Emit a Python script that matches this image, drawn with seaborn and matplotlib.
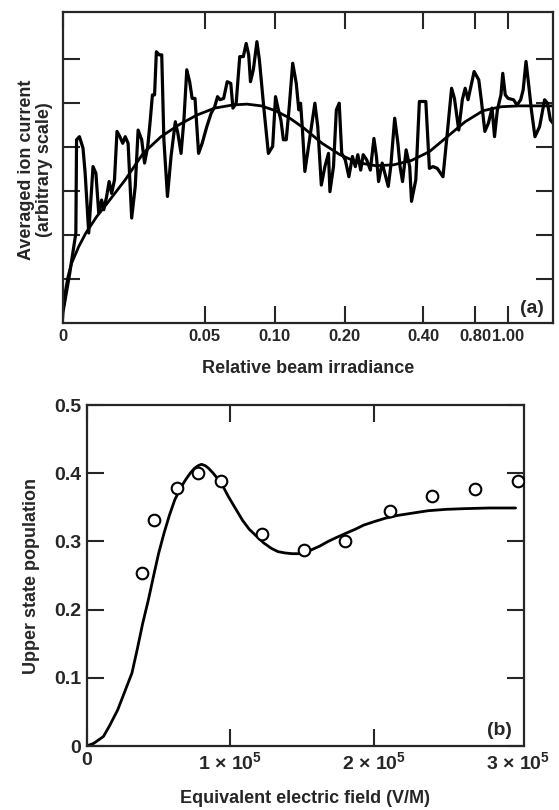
import numpy as np
import pandas as pd
import matplotlib
matplotlib.use("Agg")
import matplotlib.pyplot as plt
import seaborn as sns

# ---- panel (a): ion current vs relative beam irradiance ----
# x is the position along the (non-uniform) irradiance axis, 0..137
noisy_x = [0.2, 2.0, 3.7, 3.9, 4.7, 5.7, 6.3, 7.3, 8.5, 9.3, 10.1, 10.9, 11.5, 12.3, 13.0, 13.7,
           14.5, 15.2, 16.0, 16.8, 17.5, 18.3, 19.3, 20.3, 21.1, 22.1, 22.9, 23.8, 24.5, 25.1,
           25.7, 26.2, 27.0, 27.7, 28.3, 29.3, 30.3, 31.5, 32.2, 33.1, 33.9, 34.7, 35.5, 36.2,
           37.0, 38.0, 39.0, 40.3, 41.5, 42.5, 43.3, 44.0, 45.0, 46.0, 47.0, 47.6, 48.5, 49.5,
           50.5, 51.3, 52.0, 52.5, 53.3, 54.3, 55.0, 56.2, 57.5, 58.7, 59.5, 60.3, 61.0, 61.7,
           62.5, 63.3, 64.3, 65.3, 66.0, 66.5, 67.0, 67.7, 69.0, 70.5, 71.3, 72.3, 73.3, 74.3,
           74.7, 75.7, 76.5, 77.3, 78.0, 79.0, 80.0, 81.0, 81.8, 82.5, 83.3, 84.0, 85.0, 86.0,
           87.0, 87.7, 88.3, 89.3, 90.3, 91.0, 91.7, 92.8, 93.7, 94.3, 95.0, 96.0, 97.0, 97.5,
           98.7, 99.7, 100.5, 101.5, 102.5, 103.5, 104.7, 106.3, 107.5, 108.7, 109.5, 110.7,
           111.7, 112.5, 113.3, 115.0, 116.3, 117.0, 118.0, 119.0, 120.0, 120.7, 121.5, 122.5,
           123.0, 123.7, 124.5, 126.0, 127.0, 128.0, 128.7, 129.5, 130.3, 131.0, 132.0, 133.3,
           134.7, 135.5, 136.3, 137.0]
noisy_y = [0.30, 1.14, 2.05, 4.17, 4.24, 3.98, 3.41, 2.05, 3.56, 3.41, 2.50, 2.80, 2.58, 2.88, 3.22, 2.95,
           3.26, 4.36, 4.24, 4.09, 4.24, 4.09, 2.39, 3.11, 4.39, 4.17, 3.64, 4.02, 4.62, 5.19,
           5.19, 6.17, 6.10, 6.10, 4.17, 2.88, 3.79, 4.58, 4.32, 3.86, 4.62, 5.76, 5.49, 5.11,
           5.11, 3.86, 4.09, 4.47, 4.77, 4.92, 5.15, 5.08, 5.11, 5.49, 5.45, 4.89, 5.00, 6.06,
           6.06, 6.36, 6.10, 5.49, 5.76, 6.40, 5.98, 4.92, 3.86, 4.02, 5.15, 4.85, 4.62, 4.17,
           4.17, 4.89, 5.91, 5.45, 4.85, 5.00, 4.43, 3.45, 4.17, 5.00, 4.47, 3.14, 3.56, 3.86,
           2.99, 3.56, 4.85, 5.00, 3.86, 3.71, 3.33, 3.79, 3.56, 3.83, 3.48, 3.83, 3.71, 3.48,
           4.20, 3.79, 3.22, 3.64, 3.33, 3.11, 3.56, 4.66, 4.09, 3.56, 3.22, 3.94, 3.56, 2.77,
           3.26, 5.04, 5.04, 5.04, 3.52, 3.56, 3.52, 3.33, 4.32, 5.34, 5.11, 4.39,
           5.08, 5.34, 5.08, 5.72, 5.53, 5.08, 4.36, 4.55, 4.89, 4.24, 4.85, 5.19,
           5.68, 5.19, 5.11, 5.08, 4.96, 5.08, 5.30, 5.95, 5.38, 4.85, 4.24, 4.47,
           5.08, 5.00, 4.62, 4.55]

smooth_x = [0.0, 0.5, 1.5, 2.5, 4.5, 6.5, 9.5, 12.5, 17.5, 22.5, 27.5, 32.5, 37.5, 42.5, 47.5,
            51.5, 55.5, 59.5, 63.5, 67.5, 72.5, 77.5, 82.5, 87.5, 92.5, 97.5, 102.5, 107.5,
            112.5, 117.5, 122.5, 127.5, 137.0]
smooth_y = [0.08, 0.61, 1.06, 1.36, 1.74, 2.05, 2.42, 2.73, 3.26, 3.86, 4.24, 4.51, 4.73, 4.89, 4.96,
            4.98, 4.94, 4.83, 4.66, 4.43, 4.09, 3.83, 3.65, 3.58, 3.60, 3.70, 3.90, 4.24,
            4.58, 4.83, 4.92, 4.94, 4.94]

irr_tick_pos = [0.0, 39.7, 59.3, 78.8, 100.8, 115.3, 124.5]
irr_tick_labels = ["0", "0.05", "0.10", "0.20", "0.40", "0.80", "1.00"]

# ---- panel (b): upper state population vs field ----
field_pts = [0.385e5, 0.469e5, 0.628e5, 0.777e5, 0.931e5, 1.216e5, 1.509e5, 1.799e5,
             2.112e5, 2.404e5, 2.702e5, 3.0e5]
pop_pts = [0.254, 0.332, 0.379, 0.401, 0.389, 0.311, 0.287, 0.300, 0.345, 0.367, 0.377, 0.389]

field_curve = [0.0, 0.05e5, 0.117e5, 0.16e5, 0.216e5, 0.26e5, 0.315e5, 0.35e5, 0.39e5, 0.43e5,
               0.464e5, 0.50e5, 0.538e5, 0.575e5, 0.613e5, 0.65e5, 0.687e5, 0.72e5, 0.749e5,
               0.775e5, 0.799e5, 0.825e5, 0.849e5, 0.88e5, 0.911e5, 0.95e5, 0.985e5, 1.03e5,
               1.084e5, 1.13e5, 1.184e5, 1.23e5, 1.283e5, 1.33e5, 1.382e5, 1.43e5, 1.481e5,
               1.52e5, 1.556e5, 1.62e5, 1.68e5, 1.74e5, 1.804e5, 1.87e5, 1.928e5, 2.0e5,
               2.077e5, 2.16e5, 2.251e5, 2.375e5, 2.5e5, 2.623e5, 2.8e5, 2.983e5]
pop_curve = [0.0, 0.004, 0.014, 0.030, 0.053, 0.077, 0.107, 0.140, 0.180, 0.215,
             0.248, 0.282, 0.312, 0.338, 0.361, 0.377, 0.390, 0.400, 0.407,
             0.411, 0.413, 0.411, 0.407, 0.400, 0.392, 0.380, 0.366, 0.350,
             0.331, 0.318, 0.307, 0.298, 0.290, 0.285, 0.283, 0.282, 0.282,
             0.284, 0.287, 0.293, 0.300, 0.306, 0.312, 0.318, 0.324, 0.329,
             0.334, 0.338, 0.341, 0.345, 0.347, 0.348, 0.349, 0.349]

sns.set_style("ticks")
plt.rcParams["font.family"] = ["Liberation Sans", "DejaVu Sans"]
plt.rcParams["font.weight"] = "bold"
plt.rcParams["mathtext.fontset"] = "custom"
plt.rcParams["mathtext.rm"] = "Liberation Sans:bold"
plt.rcParams["mathtext.default"] = "regular"

fig = plt.figure(figsize=(5.59, 8.10), dpi=100)
ax1 = fig.add_axes([0.112, 0.601, 0.877, 0.3845])
ax2 = fig.add_axes([0.155, 0.079, 0.782, 0.421])

noisy = pd.DataFrame({"x": noisy_x, "y": noisy_y})
smooth = pd.DataFrame({"x": smooth_x, "y": smooth_y})
sns.lineplot(data=noisy, x="x", y="y", ax=ax1, color="black", linewidth=2.3, sort=False)
sns.lineplot(data=smooth, x="x", y="y", ax=ax1, color="black", linewidth=2.0, sort=False)
ax1.set_xlim(0, 137)
ax1.set_ylim(0, 7.08)
ax1.set_xticks(irr_tick_pos)
ax1.set_xticklabels(irr_tick_labels)
ax1.set_yticks([1, 2, 3, 4, 5, 6])
ax1.set_yticklabels([])
ax1.set_xlabel("Relative beam irradiance", fontsize=13, fontweight="bold", labelpad=12)
ax1.set_ylabel("")
ax1.text(0.982, 0.02, "(a)", transform=ax1.transAxes, ha="right", va="bottom",
         fontsize=14, fontweight="bold")
fig.text(0.064, 0.79, "Averaged ion current\n(arbitrary scale)", rotation=90,
         ha="center", va="center", fontsize=13, fontweight="bold", linespacing=1.1)

curve = pd.DataFrame({"x": field_curve, "y": pop_curve})
pts = pd.DataFrame({"x": field_pts, "y": pop_pts})
sns.lineplot(data=curve, x="x", y="y", ax=ax2, color="black", linewidth=2.0, sort=False)
sns.scatterplot(data=pts, x="x", y="y", ax=ax2, s=70, facecolor="white",
                edgecolor="black", linewidth=1.5, zorder=3)
ax2.set_xlim(0, 3.04e5)
ax2.set_ylim(0, 0.5)
ax2.set_xticks([0, 1e5, 2e5, 3e5])
ax2.set_xticklabels(["0", r"1 × 10$^{5}$", r"2 × 10$^{5}$", r"3 × 10$^{5}$"])
ax2.set_yticks([0, 0.1, 0.2, 0.3, 0.4, 0.5])
ax2.set_yticklabels(["0", "0.1", "0.2", "0.3", "0.4", "0.5"])
ax2.set_xlabel("Equivalent electric field (V/M)", fontsize=13, fontweight="bold", labelpad=12)
ax2.set_ylabel("Upper state population", fontsize=13, fontweight="bold", labelpad=10)
ax2.text(0.973, 0.02, "(b)", transform=ax2.transAxes, ha="right", va="bottom",
         fontsize=14, fontweight="bold")

for ax in (ax1, ax2):
    ax.tick_params(direction="in", length=12, width=1.5, top=True, right=True,
                   labelsize=14, pad=4)
    for sp in ax.spines.values():
        sp.set_linewidth(1.6)
        sp.set_visible(True)
    for lbl in ax.get_xticklabels() + ax.get_yticklabels():
        lbl.set_fontweight("bold")

# (a) tick labels are packed tightly near 0.80 / 1.00
ax1.tick_params(axis="x", labelsize=12)

# last x tick in (b) sits on the frame edge in the original, hide its marks
last = ax2.xaxis.get_major_ticks()[-1]
last.tick1line.set_visible(False)
last.tick2line.set_visible(False)

fig.savefig("out.png", dpi=100)
